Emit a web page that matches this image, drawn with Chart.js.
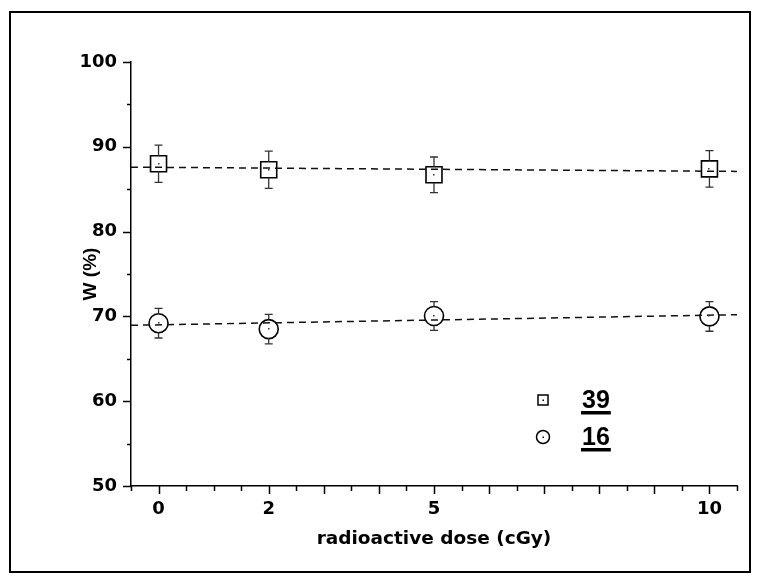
<!DOCTYPE html>
<html>
<head>
<meta charset="utf-8">
<script src="https://cdn.jsdelivr.net/npm/chart.js@4.4.1/dist/chart.umd.min.js"></script>
<style>
    html, body { margin: 0; padding: 0; background: #fff; }
    #wrap { width: 760px; height: 583px; }
</style>
</head>
<body>
<div id="wrap"><canvas id="wChart" width="760" height="583"></canvas></div>
<script>
/* -------- Data -------- */
const doses = [0, 2, 5, 10];
const w39 = [88.0, 87.3, 86.7, 87.4];
const err39 = [2.2, 2.2, 2.1, 2.15];
const w16 = [69.2, 68.5, 70.05, 70.0];
const err16 = [1.75, 1.75, 1.7, 1.75];

/* linear fit lines, end points */
const fitX = [-0.5, 10.5];
const fit39 = [87.6, 87.1];
const fit16 = [68.95, 70.2];

/* -------- Axis ticks -------- */
const xLabels = [0, 2, 5, 10];
const xMajor = [0, 2, 3, 4, 5, 6, 7, 8, 9, 10];
const xMinor = [-0.5, 0.5, 1, 1.5, 2.5, 3.5, 4.5, 5.5, 6.5, 7.5, 8.5, 9.5, 10.5];
const yMajor = [50, 60, 70, 80, 90, 100];
const yMinor = [55, 65, 75, 85, 95];

const legendItems = ['39', '16'];

const FONT = '"Liberation Sans", Arial, sans-serif';
const WIDE = '"DejaVu Sans", sans-serif';

function pts(xs, ys) {
    return xs.map((x, i) => ({ x: x, y: ys[i] }));
}

/* -------- Extra drawing: ticks, error bars, legend, frame -------- */
const decorPlugin = {
    id: 'decor',
    afterDatasetsDraw(chart) {
        const ctx = chart.ctx;
        const xs = chart.scales.x;
        const ys = chart.scales.y;
        const area = chart.chartArea;

        ctx.save();
        ctx.strokeStyle = '#000';
        ctx.lineWidth = 1.5;

        // x ticks (outward, below axis)
        const tickX = (v, len) => {
            const px = Math.round(xs.getPixelForValue(v)) + 0.5;
            ctx.beginPath();
            ctx.moveTo(px, area.bottom);
            ctx.lineTo(px, area.bottom + len);
            ctx.stroke();
        };
        xMajor.forEach(v => tickX(v, 8));
        xMinor.forEach(v => tickX(v, 5));

        // y ticks (outward, left of axis)
        const tickY = (v, len) => {
            const py = Math.round(ys.getPixelForValue(v)) + 0.5;
            ctx.beginPath();
            ctx.moveTo(area.left, py);
            ctx.lineTo(area.left - len, py);
            ctx.stroke();
        };
        yMajor.forEach(v => tickY(v, 8));
        yMinor.forEach(v => tickY(v, 4));

        // error bars
        ctx.strokeStyle = '#333';
        ctx.lineWidth = 1.3;
        const errBars = (vals, errs, half) => {
            doses.forEach((d, i) => {
                const px = xs.getPixelForValue(d);
                const pc = ys.getPixelForValue(vals[i]);
                const pTop = ys.getPixelForValue(vals[i] + errs[i]);
                const pBot = ys.getPixelForValue(vals[i] - errs[i]);
                ctx.beginPath();
                ctx.moveTo(px, pc - half);
                ctx.lineTo(px, pTop);
                ctx.moveTo(px - 4, pTop);
                ctx.lineTo(px + 4, pTop);
                ctx.moveTo(px, pc + half);
                ctx.lineTo(px, pBot);
                ctx.moveTo(px - 4, pBot);
                ctx.lineTo(px + 4, pBot);
                ctx.stroke();
                // centre dot
                ctx.fillStyle = '#333';
                ctx.fillRect(Math.round(px) - 1, Math.round(pc) - 1, 1.5, 1.5);
            });
        };
        errBars(w39, err39, 8);
        errBars(w16, err16, 9.5);

        // legend
        ctx.strokeStyle = '#000';
        ctx.lineWidth = 1.5;
        ctx.fillStyle = '#000';
        const lx = 543, ly = [400, 437];
        ctx.strokeRect(lx - 5, ly[0] - 5, 10, 10);
        ctx.fillRect(lx - 0.5, ly[0] - 0.5, 1.5, 1.5);
        ctx.beginPath();
        ctx.arc(lx, ly[1], 6.5, 0, Math.PI * 2);
        ctx.stroke();
        ctx.fillRect(lx - 0.5, ly[1] - 0.5, 1.5, 1.5);

        ctx.font = 'bold 25px ' + FONT;
        ctx.textBaseline = 'middle';
        ctx.textAlign = 'left';
        legendItems.forEach((t, i) => {
            const tx = 582;
            ctx.fillText(t, tx, ly[i] + 1);
            const w = ctx.measureText(t).width;
            ctx.fillRect(tx - 1, ly[i] + 11, w + 2, 3.5);
        });

        // outer frame
        ctx.lineWidth = 2;
        ctx.strokeRect(10, 12, 740, 560);
        ctx.restore();
    }
};

new Chart(document.getElementById('wChart').getContext('2d'), {
    type: 'scatter',
    data: {
        datasets: [
            {
                label: '39 fit',
                type: 'line',
                data: pts(fitX, fit39),
                borderColor: '#111',
                borderWidth: 1.5,
                borderDash: [7, 5],
                pointRadius: 0,
                fill: false
            },
            {
                label: '16 fit',
                type: 'line',
                data: pts(fitX, fit16),
                borderColor: '#111',
                borderWidth: 1.5,
                borderDash: [7, 5],
                pointRadius: 0,
                fill: false
            },
            {
                label: '39',
                data: pts(doses, w39),
                pointStyle: 'rect',
                pointRadius: 11.3,
                pointBorderWidth: 1.6,
                borderColor: '#000',
                backgroundColor: 'rgba(0,0,0,0)'
            },
            {
                label: '16',
                data: pts(doses, w16),
                pointStyle: 'circle',
                pointRadius: 9.5,
                pointBorderWidth: 1.6,
                borderColor: '#000',
                backgroundColor: 'rgba(0,0,0,0)'
            }
        ]
    },
    options: {
        responsive: false,
        animation: false,
        events: [],
        layout: { padding: { left: 0, top: 62, right: 23, bottom: 0 } },
        plugins: {
            legend: { display: false },
            tooltip: { enabled: false }
        },
        scales: {
            x: {
                type: 'linear',
                min: -0.5,
                max: 10.5,
                afterBuildTicks: s => { s.ticks = xLabels.map(v => ({ value: v })); },
                afterFit: s => { s.height = 97; },
                grid: { display: false, drawTicks: false },
                border: { display: true, color: '#000', width: 1.5 },
                ticks: {
                    color: '#000',
                    padding: 13,
                    maxRotation: 0,
                    font: { family: WIDE, size: 18, weight: 'bold' }
                },
                title: {
                    display: true,
                    text: 'radioactive dose (cGy)',
                    color: '#000',
                    font: { family: WIDE, size: 18.5, weight: 'bold' },
                    padding: { top: 0, bottom: 33 }
                }
            },
            y: {
                type: 'linear',
                min: 50,
                max: 100,
                afterBuildTicks: s => { s.ticks = yMajor.map(v => ({ value: v })); },
                afterFit: s => { s.width = 131; },
                grid: { display: false, drawTicks: false },
                border: { display: true, color: '#000', width: 1.5 },
                ticks: {
                    color: '#000',
                    padding: 14,
                    font: { family: WIDE, size: 18, weight: 'bold' }
                },
                title: {
                    display: true,
                    text: 'W (%)',
                    color: '#000',
                    font: { family: FONT, size: 19, weight: 'bold' },
                    padding: { top: 79, bottom: 0 }
                }
            }
        }
    },
    plugins: [decorPlugin]
});
</script>
</body>
</html>
